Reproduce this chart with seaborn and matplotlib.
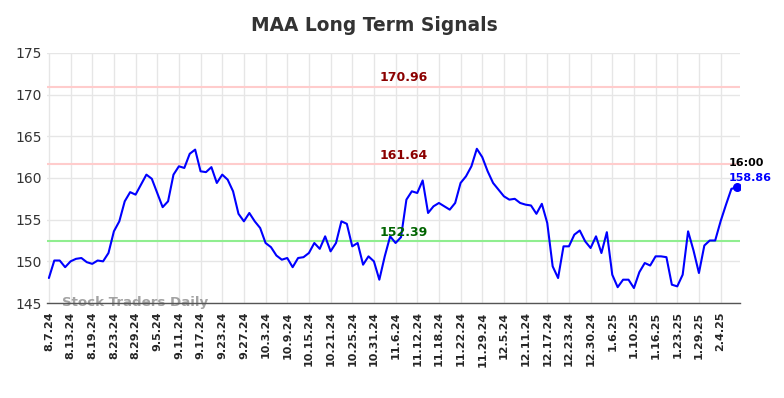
import numpy as np
import pandas as pd
import matplotlib
matplotlib.use("Agg")
import matplotlib.pyplot as plt
import seaborn as sns

sns.set_style("whitegrid")
plt.rcParams['font.family'] = ['DejaVu Sans']

# closing prices, one per trading day (8.7.24 .. 2.7.25)
prices = [
    148.0, 150.1, 150.1, 149.3, 150.0, 150.3, 150.4, 149.9, 149.7, 150.1,
    150.0, 151.0, 153.6, 154.8, 157.2, 158.3, 158.0, 159.2, 160.4, 159.9,
    158.2, 156.5, 157.2, 160.4, 161.4, 161.2, 162.9, 163.4, 160.8, 160.7,
    161.3, 159.4, 160.4, 159.8, 158.4, 155.7, 154.8, 155.8, 154.8, 154.0,
    152.2, 151.7, 150.7, 150.2, 150.4, 149.3, 150.4, 150.5, 151.0, 152.2,
    151.5, 153.0, 151.2, 152.2, 154.8, 154.5, 151.8, 152.2, 149.6, 150.6,
    150.0, 147.8, 150.6, 153.0, 152.2, 152.9, 157.4, 158.4, 158.2, 159.7,
    155.8, 156.6, 157.0, 156.6, 156.2, 157.0, 159.4, 160.2, 161.4, 163.5,
    162.5, 160.8, 159.4, 158.6, 157.8, 157.4, 157.5, 157.0, 156.8, 156.7,
    155.7, 156.9, 154.6, 149.4, 148.0, 151.8, 151.8, 153.2, 153.7, 152.4,
    151.6, 153.0, 151.0, 153.5, 148.4, 146.9, 147.8, 147.8, 146.8, 148.7,
    149.8, 149.5, 150.6, 150.6, 150.5, 147.2, 147.0, 148.4, 153.6, 151.3,
    148.6, 151.9, 152.5, 152.5, 154.8, 156.8, 158.7, 158.86,
]

# one tick label every 4 trading days
tick_labels = [
    "8.7.24", "8.13.24", "8.19.24", "8.23.24", "8.29.24", "9.5.24",
    "9.11.24", "9.17.24", "9.23.24", "9.27.24", "10.3.24", "10.9.24",
    "10.15.24", "10.21.24", "10.25.24", "10.31.24", "11.6.24", "11.12.24",
    "11.18.24", "11.22.24", "11.29.24", "12.5.24", "12.11.24", "12.17.24",
    "12.23.24", "12.30.24", "1.6.25", "1.10.25", "1.16.25", "1.23.25",
    "1.29.25", "2.4.25",
]
tick_step = 4

resistance_high = 170.96
resistance_mid = 161.64
support = 152.39
last_time = "16:00"

df = pd.DataFrame({"day": np.arange(len(prices)), "close": prices})

fig = plt.figure(figsize=(7.84, 3.98), dpi=100)
ax = fig.add_axes([0.0596, 0.2386, 0.8844, 0.6285])

ax.axhline(resistance_high, color="#ffcccc", lw=1.5, zorder=1)
ax.axhline(resistance_mid, color="#ffcccc", lw=1.5, zorder=1)
ax.axhline(support, color="#90ee90", lw=1.5, zorder=1)

sns.lineplot(data=df, x="day", y="close", ax=ax, color="#0000ff", lw=1.5, zorder=3)

last = df.iloc[-1]
ax.scatter([last["day"]], [last["close"]], color="#0000ff", s=30, zorder=4)
ax.text(last["day"] - 1.5, last["close"] + 2.3, last_time, fontsize=8,
        fontweight="bold", color="black", ha="left", va="bottom")
ax.text(last["day"] - 1.5, last["close"] + 0.5, f"{last['close']:.2f}",
        fontsize=8, fontweight="bold", color="#0000ff", ha="left", va="bottom")

mid_x = 65.5
for level, col in [(resistance_high, "#8b0000"), (resistance_mid, "#8b0000"),
                   (support, "#006400")]:
    ax.text(mid_x, level + 0.3, f"{level:.2f}", fontsize=9, fontweight="bold",
            color=col, ha="center", va="bottom", zorder=5)

ax.text(2.5, 145.1, "Stock Traders Daily", fontsize=9.6, fontweight="bold",
        color="#999999", ha="left", va="center", alpha=0.9, zorder=2)

ax.set_xlim(-0.4, 127.6)
ax.set_ylim(145, 175)
ax.set_yticks(range(145, 176, 5))
ax.set_xticks(np.arange(len(tick_labels)) * tick_step)
ax.set_xticklabels(tick_labels, rotation=90, fontsize=8, fontweight="bold")
ax.tick_params(axis="y", labelsize=10, colors="#333333", length=0)
ax.tick_params(axis="x", length=0, pad=6)
ax.set_xlabel("")
ax.set_ylabel("")
ax.grid(True, color="#e6e6e6", lw=1)

for side in ["left", "right", "top"]:
    ax.spines[side].set_visible(False)
ax.spines["bottom"].set_color("#555555")
ax.spines["bottom"].set_linewidth(1)

fig.text(0.477, 0.935, "MAA Long Term Signals", fontsize=13.4, fontweight="bold",
         color="#333333", ha="center", va="center")

fig.savefig("out.png", dpi=100)
